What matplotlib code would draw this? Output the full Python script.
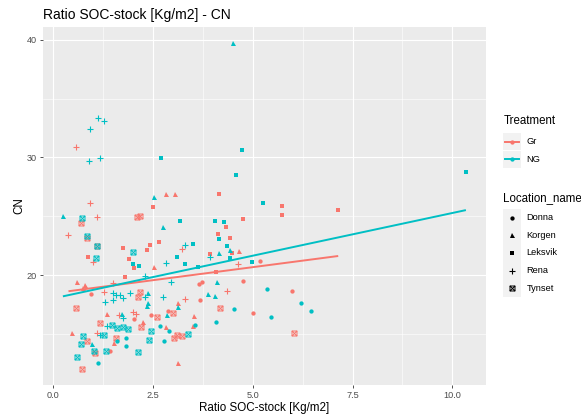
import numpy as np
import matplotlib
matplotlib.use("Agg")
import matplotlib.pyplot as plt
from matplotlib.path import Path
from matplotlib.patches import Rectangle

plt.rcParams['font.family'] = ['Liberation Sans', 'DejaVu Sans']

# ---------------- data ----------------
# Treatment Gr (red)
gr_donna_x = [0.94, 2.44, 2.87, 2.02, 1.42, 3.72, 3.66, 4.76, 5.99, 3.68, 5.00, 5.19]
gr_donna_y = [18.36, 16.60, 16.96, 16.26, 13.53, 19.38, 19.23, 19.51, 18.64, 17.87, 16.79, 21.17]
gr_korgen_x = [2.53, 0.60, 0.79, 0.75, 1.34, 2.24, 2.82, 0.46, 1.52, 3.13, 3.13, 4.65, 3.53, 3.51, 2.82, 3.06]
gr_korgen_y = [20.71, 19.38, 19.15, 18.87, 16.68, 16.03, 15.60, 15.04, 14.24, 12.54, 17.64, 22.07, 16.54, 15.66, 26.92, 26.92]
gr_leksvik_x = [2.49, 1.75, 2.65, 2.42, 2.34, 0.88, 1.90, 2.01, 1.80, 5.72, 5.74, 7.14, 4.76, 4.32, 4.12, 4.43, 4.49, 3.93, 4.07, 4.15]
gr_leksvik_y = [25.76, 22.27, 22.78, 22.55, 22.13, 21.56, 21.34, 20.62, 19.86, 25.90, 25.11, 25.53, 24.77, 24.06, 23.49, 23.17, 21.90, 21.76, 20.28, 26.89]
gr_rena_x = [0.92, 1.10, 0.38, 3.22, 1.00, 1.49, 1.27, 3.30, 2.00, 1.65, 2.07, 1.10, 0.57, 4.64, 4.36]
gr_rena_y = [26.13, 24.91, 23.40, 22.19, 21.13, 19.29, 18.58, 17.93, 16.88, 16.60, 16.66, 15.04, 30.92, 20.94, 18.66]
gr_tynset_x = [0.69, 2.09, 2.17, 0.84, 1.10, 2.13, 2.17, 0.57, 2.61, 2.99, 1.17, 2.20, 0.85, 1.57, 3.03, 3.09, 3.23, 1.04, 0.71, 4.18, 6.02]
gr_tynset_y = [24.45, 24.91, 25.02, 23.17, 22.49, 18.10, 18.55, 17.22, 16.40, 16.79, 15.94, 15.55, 14.41, 14.66, 14.61, 14.89, 14.81, 13.34, 12.00, 17.17, 15.09]

# Treatment NG (teal)
ng_donna_x = [2.67, 2.89, 1.60, 1.82, 1.81, 2.78, 1.13, 5.35, 6.21, 6.46, 4.53, 5.45, 4.07, 3.56]
ng_donna_y = [15.66, 15.26, 14.41, 14.61, 13.98, 14.41, 12.49, 18.81, 17.64, 16.96, 17.11, 16.45, 15.97, 15.72]
ng_korgen_x = [0.24, 2.76, 2.38, 2.37, 2.34, 1.71, 2.84, 3.13, 0.96, 4.50, 2.52, 4.43, 4.15, 4.10, 3.88, 4.04]
ng_korgen_y = [25.05, 24.11, 18.44, 17.59, 17.36, 16.66, 16.60, 17.30, 14.13, 39.77, 26.64, 22.13, 21.85, 19.38, 18.36, 18.24]
ng_leksvik_x = [3.18, 3.09, 1.99, 2.14, 3.31, 5.25, 4.05, 4.28, 4.16, 3.51, 4.35, 4.43, 3.63, 4.97, 2.70, 4.74, 4.58, 10.34]
ng_leksvik_y = [24.60, 21.51, 20.94, 20.77, 20.91, 26.10, 24.62, 24.49, 23.06, 22.61, 22.49, 21.47, 20.71, 21.13, 29.93, 30.64, 28.51, 28.74]
ng_rena_x = [3.30, 2.82, 2.30, 2.94, 1.50, 1.92, 1.57, 1.67, 1.75, 2.30, 2.74, 1.30, 1.50, 1.74, 1.35, 1.17, 3.93, 1.11, 1.27, 0.92, 0.89, 1.18]
ng_rena_y = [22.55, 21.00, 19.91, 19.43, 18.49, 18.49, 18.30, 18.30, 18.02, 18.15, 18.10, 17.68, 17.87, 16.37, 15.66, 14.89, 21.56, 33.39, 33.13, 32.43, 29.73, 29.98]
ng_tynset_x = [0.71, 0.85, 1.10, 1.99, 1.06, 1.46, 1.60, 1.74, 1.88, 1.27, 0.74, 0.69, 2.46, 2.40, 3.38, 1.02, 1.32, 2.13, 0.60]
ng_tynset_y = [24.83, 23.32, 22.49, 21.93, 21.42, 15.74, 15.51, 15.55, 15.38, 14.89, 14.81, 14.13, 15.23, 14.47, 14.98, 13.53, 13.53, 13.42, 13.05]

treatments = ["Gr", "NG"]
locations = ["Donna", "Korgen", "Leksvik", "Rena", "Tynset"]
x_ticks = [0.0, 2.5, 5.0, 7.5, 10.0]
x_ticklabels = ["0.0", "2.5", "5.0", "7.5", "10.0"]
y_ticks = [20, 30, 40]
y_ticklabels = ["20", "30", "40"]

# ---------------- styling ----------------
colors = {"Gr": "#F8766D", "NG": "#00BFC4"}

# boxed-cross marker (ggplot shape 7)
verts = [(-1, -1), (1, -1), (1, 1), (-1, 1), (-1, -1), (-1, -1), (1, 1), (-1, 1), (1, -1)]
codes = [Path.MOVETO, Path.LINETO, Path.LINETO, Path.LINETO, Path.CLOSEPOLY,
         Path.MOVETO, Path.LINETO, Path.MOVETO, Path.LINETO]
boxx = Path(verts, codes)

mstyle = {
    "Donna": dict(marker="o", ms=3.1, mew=0),
    "Korgen": dict(marker="^", ms=3.6, mew=0),
    "Leksvik": dict(marker="s", ms=3.0, mew=0),
    "Rena": dict(marker="+", ms=5.0, mew=0.8),
    "Tynset": dict(marker=boxx, ms=3.6, mew=0.7),
}

data = {
    ("Gr", "Donna"): (gr_donna_x, gr_donna_y),
    ("Gr", "Korgen"): (gr_korgen_x, gr_korgen_y),
    ("Gr", "Leksvik"): (gr_leksvik_x, gr_leksvik_y),
    ("Gr", "Rena"): (gr_rena_x, gr_rena_y),
    ("Gr", "Tynset"): (gr_tynset_x, gr_tynset_y),
    ("NG", "Donna"): (ng_donna_x, ng_donna_y),
    ("NG", "Korgen"): (ng_korgen_x, ng_korgen_y),
    ("NG", "Leksvik"): (ng_leksvik_x, ng_leksvik_y),
    ("NG", "Rena"): (ng_rena_x, ng_rena_y),
    ("NG", "Tynset"): (ng_tynset_x, ng_tynset_y),
}

W, H = 581, 417
fig = plt.figure(figsize=(W / 100, H / 100), dpi=100)
fig.patch.set_facecolor("white")

pl, pr, pt, pb = 42.7, 486.0, 26.7, 385.0
ax = fig.add_axes([pl / W, 1 - pb / H, (pr - pl) / W, (pb - pt) / H])
ax.set_facecolor("#EBEBEB")
for s in ax.spines.values():
    s.set_visible(False)

ax.set_xlim(-0.266, 10.844)
ax.set_ylim(10.64, 41.13)
ax.set_xticks(x_ticks)
ax.set_xticklabels(x_ticklabels)
ax.set_yticks(y_ticks)
ax.set_yticklabels(y_ticklabels)
ax.set_xticks([1.25, 3.75, 6.25, 8.75], minor=True)
ax.set_yticks([15, 25, 35], minor=True)
ax.grid(True, which="major", color="white", lw=0.85)
ax.grid(True, which="minor", color="white", lw=0.4)
ax.set_axisbelow(True)
ax.tick_params(which="major", length=2.3, width=0.6, color="#333333",
               labelsize=6.6, labelcolor="#4D4D4D", pad=1.8)
ax.tick_params(which="minor", length=0)

for (t, loc), (xs, ys) in data.items():
    st = dict(mstyle[loc])
    c = colors[t]
    if loc in ("Rena", "Tynset"):
        ax.plot(xs, ys, ls="none", marker=st["marker"], ms=st["ms"], mew=st["mew"],
                mec=c, mfc="none", zorder=3)
    else:
        ax.plot(xs, ys, ls="none", marker=st["marker"], ms=st["ms"], mew=0,
                mfc=c, mec=c, zorder=3)

# linear fits per treatment
for t in treatments:
    xs = np.concatenate([data[(t, l)][0] for l in locations])
    ys = np.concatenate([data[(t, l)][1] for l in locations])
    b, a = np.polyfit(xs, ys, 1)
    xx = np.array([xs.min(), xs.max()])
    ax.plot(xx, a + b * xx, color=colors[t], lw=1.4, zorder=4, solid_capstyle="butt")

fig.text(pl / W, 1 - 19.3 / H, "Ratio SOC-stock [Kg/m2] - CN", fontsize=10.0,
         ha="left", va="baseline", color="black")
fig.text((pl + pr) / 2 / W, 1 - 411.5 / H, "Ratio SOC-stock [Kg/m2]", fontsize=8.4,
         ha="center", va="baseline", color="black")
fig.text(19.5 / W, 1 - (pt + pb) / 2 / H, "CN", fontsize=8.4, rotation=90,
         ha="center", va="center", color="black")

# ---------------- legend (drawn manually) ----------------
lax = fig.add_axes([0, 0, 1, 1])
lax.set_xlim(0, W)
lax.set_ylim(H, 0)
lax.axis("off")
lax.patch.set_alpha(0)

kx0, kx1 = 503.3, 520.6
kcx = (kx0 + kx1) / 2
tx = 526.7

lax.text(kx0, 121.0, "Treatment", fontsize=8.3, ha="left", va="center")
for i, (t, yc) in enumerate(zip(treatments, [141.7, 159.3])):
    lax.add_patch(Rectangle((kx0, yc - 8.6), kx1 - kx0, 17.2, facecolor="#F2F2F2",
                            edgecolor="none"))
    lax.plot([kx0 + 1.7, kx1 - 1.7], [yc, yc], color=colors[t], lw=1.4)
    lax.plot([kcx], [yc], ls="none", marker="o", ms=3.1, mew=0, mfc=colors[t])
    lax.text(tx, yc, t, fontsize=6.7, ha="left", va="center")

lax.text(kx0, 197.7, "Location_name", fontsize=8.3, ha="left", va="center")
loc_y = [217.7, 235.3, 252.9, 270.5, 288.1]
for loc, yc in zip(locations, loc_y):
    lax.add_patch(Rectangle((kx0, yc - 8.8), kx1 - kx0, 17.6, facecolor="#F2F2F2",
                            edgecolor="none"))
    st = mstyle[loc]
    if loc in ("Rena", "Tynset"):
        lax.plot([kcx], [yc], ls="none", marker=st["marker"], ms=st["ms"], mew=st["mew"],
                 mec="black", mfc="none")
    else:
        lax.plot([kcx], [yc], ls="none", marker=st["marker"], ms=st["ms"], mew=0,
                 mfc="black")
    lax.text(tx, yc, loc, fontsize=6.7, ha="left", va="center")

fig.savefig("out.png", dpi=100)
